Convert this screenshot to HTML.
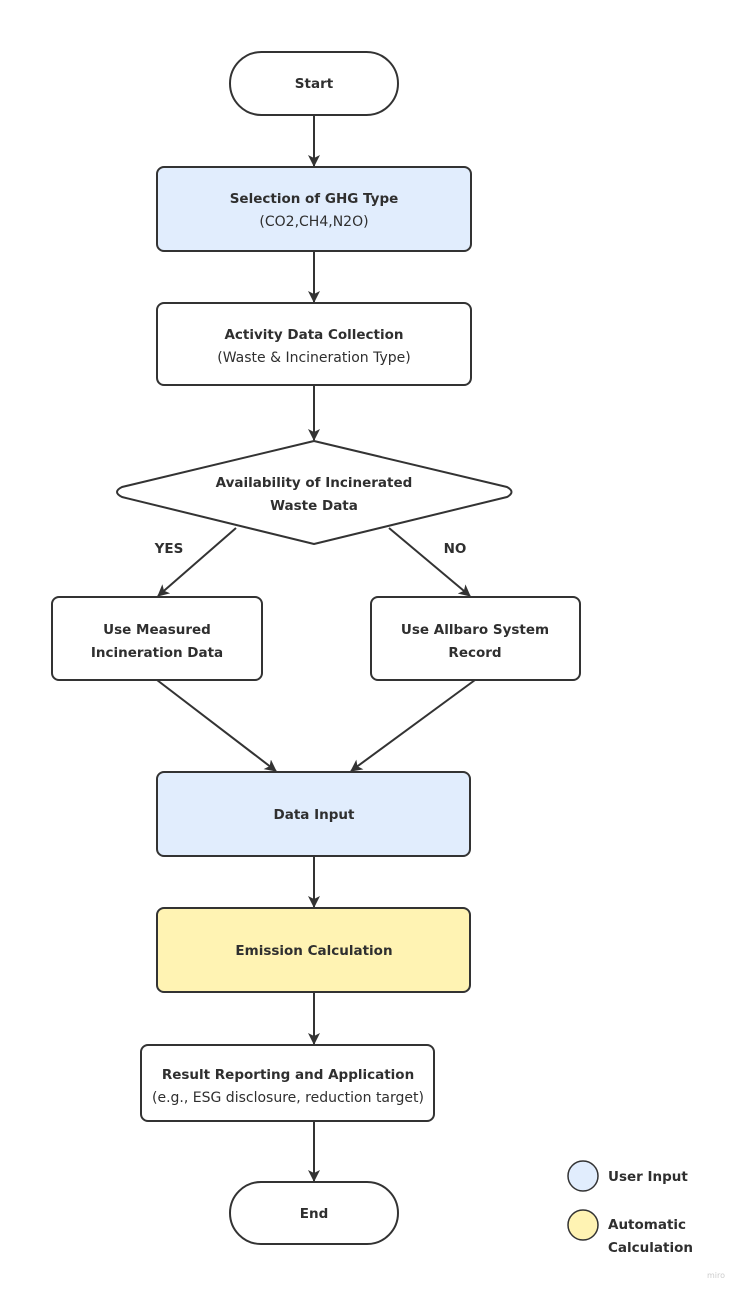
<!DOCTYPE html>
<html><head><meta charset="utf-8"><style>
html,body{margin:0;padding:0;background:#fff;}
svg text{font-family:"DejaVu Sans","Liberation Sans",sans-serif;fill:#2f2f2f;}
.b{font-weight:bold;font-size:13.5px;}
.n{font-size:14px;}
</style></head><body>
<svg width="742" height="1296" viewBox="0 0 742 1296" xmlns="http://www.w3.org/2000/svg">
<defs>
<marker id="a" markerWidth="14" markerHeight="14" refX="11" refY="6" orient="auto" markerUnits="userSpaceOnUse">
<path d="M0,0 L12,6 L0,12 L3,6 Z" fill="#333"/>
</marker>
</defs>
<g stroke="#333" stroke-width="2" fill="none">
<line x1="314" y1="115" x2="314" y2="166" marker-end="url(#a)"/>
<line x1="314" y1="251" x2="314" y2="302" marker-end="url(#a)"/>
<line x1="314" y1="385" x2="314" y2="440" marker-end="url(#a)"/>
<line x1="236" y1="528" x2="158" y2="596" marker-end="url(#a)"/>
<line x1="389" y1="528" x2="470" y2="596" marker-end="url(#a)"/>
<line x1="157" y1="680" x2="276" y2="771" marker-end="url(#a)"/>
<line x1="475" y1="680" x2="351" y2="771" marker-end="url(#a)"/>
<line x1="314" y1="856" x2="314" y2="907" marker-end="url(#a)"/>
<line x1="314" y1="992" x2="314" y2="1044" marker-end="url(#a)"/>
<line x1="314" y1="1121" x2="314" y2="1181" marker-end="url(#a)"/>
</g>
<g stroke="#333" stroke-width="2">
<rect x="230" y="52" width="168" height="63" rx="31.5" fill="#fff"/>
<rect x="157" y="167" width="314" height="84" rx="7" fill="#e1edfd"/>
<rect x="157" y="303" width="314" height="82" rx="7" fill="#fff"/>
<path d="M314,441 L507,487 Q516,492 507,497 L314,544 L122,497 Q112,492 122,487 Z" fill="#fff" stroke-linejoin="round"/>
<rect x="52" y="597" width="210" height="83" rx="7" fill="#fff"/>
<rect x="371" y="597" width="209" height="83" rx="7" fill="#fff"/>
<rect x="157" y="772" width="313" height="84" rx="7" fill="#e1edfd"/>
<rect x="157" y="908" width="313" height="84" rx="7" fill="#fff3b3"/>
<rect x="141" y="1045" width="293" height="76" rx="7" fill="#fff"/>
<rect x="230" y="1182" width="168" height="62" rx="31" fill="#fff"/>
<circle cx="583" cy="1176" r="15" fill="#e1edfd" stroke-width="1.5"/>
<circle cx="583" cy="1225" r="15" fill="#fff3b3" stroke-width="1.5"/>
</g>
<g text-anchor="middle">
<text class="b" x="314" y="88">Start</text>
<text class="b" x="314" y="203">Selection of GHG Type</text>
<text class="n" x="314" y="226">(CO2,CH4,N2O)</text>
<text class="b" x="314" y="339">Activity Data Collection</text>
<text class="n" x="314" y="362">(Waste &amp; Incineration Type)</text>
<text class="b" x="314" y="487">Availability of Incinerated</text>
<text class="b" x="314" y="510">Waste Data</text>
<text class="b" x="169" y="553">YES</text>
<text class="b" x="455" y="553">NO</text>
<text class="b" x="157" y="634">Use Measured</text>
<text class="b" x="157" y="657">Incineration Data</text>
<text class="b" x="475" y="634">Use Allbaro System</text>
<text class="b" x="475" y="657">Record</text>
<text class="b" x="314" y="819">Data Input</text>
<text class="b" x="314" y="955">Emission Calculation</text>
<text class="b" x="288" y="1079">Result Reporting and Application</text>
<text class="n" x="288" y="1102">(e.g., ESG disclosure, reduction target)</text>
<text class="b" x="314" y="1218">End</text>
</g>
<text class="b" x="608" y="1181">User Input</text>
<text class="b" x="608" y="1229">Automatic</text>
<text class="b" x="608" y="1252">Calculation</text>
<text x="707" y="1278" style="font-size:8px;fill:#ccc">miro</text>
</svg>
</body></html>
